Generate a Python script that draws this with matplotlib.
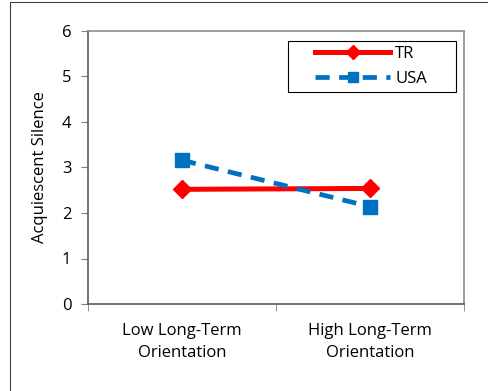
import matplotlib.pyplot as plt
from matplotlib.patches import Rectangle

plt.rcParams['font.family'] = ['Open Sans', 'DejaVu Sans']

categories = ['Low Long-Term\nOrientation', 'High Long-Term\nOrientation']
tr = [2.52, 2.54]
usa = [3.16, 2.14]

fig = plt.figure(figsize=(4.88, 3.91), dpi=100)
ax = fig.add_axes([88/488, 1 - 304/391, 376/488, 273/391])

x = [0.5, 1.5]
ax.plot(x, tr, color='#ff0000', lw=3.6, marker='D', ms=9, label='TR')
ax.plot(x, usa, color='#0070c0', lw=3.4, ls=(0, (3, 2)), marker='s', ms=10, label='USA')

ax.set_xlim(0, 2)
ax.set_ylim(0, 6)
ax.set_yticks(range(7))
ax.set_xticks(x)
ax.set_xticklabels(categories, fontsize=12, linespacing=1.5)
ax.set_xticks([0, 1, 2], minor=True)
ax.tick_params(axis='x', which='major', length=0, pad=14)
ax.tick_params(axis='x', which='minor', length=5, color='#7f7f7f')
ax.tick_params(axis='y', length=5, color='#7f7f7f', labelsize=12, pad=7)
ax.set_ylabel('Acquiescent Silence', fontsize=12, labelpad=10)

for side in ['top', 'right']:
    ax.spines[side].set_color('#8c8c8c')
    ax.spines[side].set_linewidth(1.2)
for side in ['left', 'bottom']:
    ax.spines[side].set_color('#595959')
    ax.spines[side].set_linewidth(1.2)

# legend box drawn separately so it can be wider than the entries
box = Rectangle((0.532, 0.777), 0.447, 0.186, transform=ax.transAxes,
                fill=True, facecolor='white', edgecolor='black', lw=0.8, zorder=4)
ax.add_patch(box)
leg = ax.legend(loc='center', bbox_to_anchor=(0.532 + 0.447/2 - 0.003, 0.777 + 0.186/2),
                fontsize=12, frameon=False, handlelength=4.5, handletextpad=0.3,
                labelspacing=0.5, borderpad=0, markerscale=0.75)
leg.set_zorder(5)

# border around the whole chart
fig.patches.append(Rectangle((10/488, -0.01), 1, 1 - 2/391 + 0.01, transform=fig.transFigure,
                             fill=False, edgecolor='#404040', lw=0.8))

fig.savefig('out.png', dpi=100)
